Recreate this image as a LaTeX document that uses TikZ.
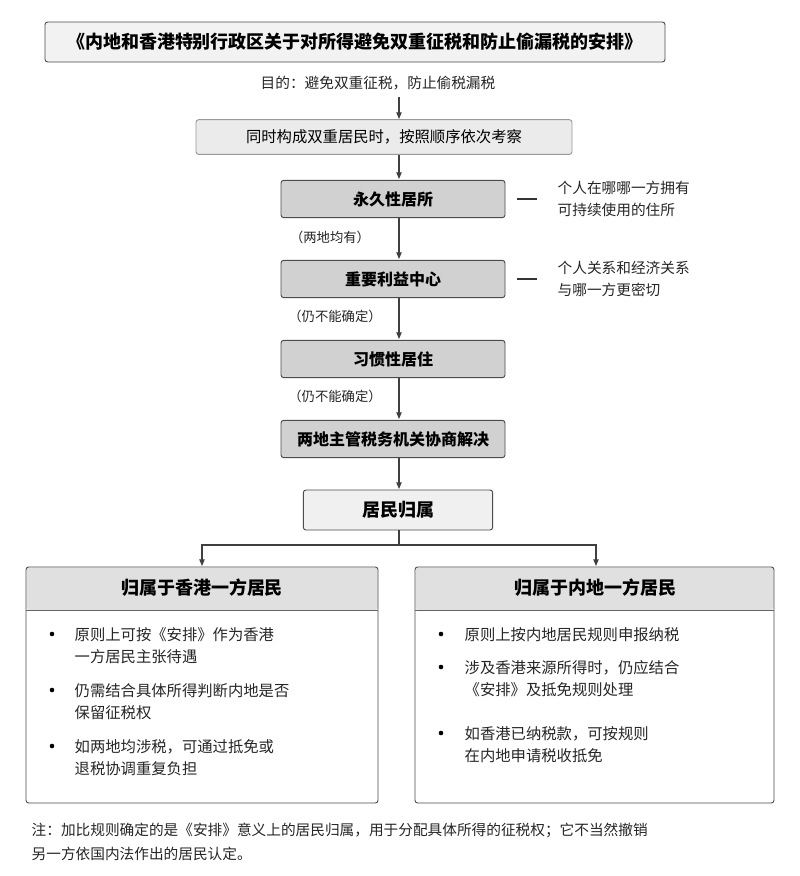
\documentclass[tikz,border=0pt]{standalone}
\usepackage{fontspec}
\setmainfont{Noto Sans CJK SC}
\usetikzlibrary{arrows.meta}
\begin{document}
\begin{tikzpicture}[x=0.75pt,y=-0.75pt,
  arr/.style={-{Triangle[length=5pt,width=4pt]},draw=black!75,line width=0.8pt},
  box/.style={draw=black!70,rounded corners=2pt,line width=0.7pt},
  stepbox/.style={box,fill=black!18,minimum width=168pt,minimum height=28pt,font=\fontsize{12}{14}\selectfont\bfseries},
  txt/.style={font=\fontsize{11}{13}\selectfont,text=black!85},
  side/.style={txt,align=left,anchor=west,font=\fontsize{11}{16}\selectfont},
  bl/.style={txt,align=left,anchor=north west,text width=235pt,font=\fontsize{11.5}{16.5}\selectfont}]
\useasboundingbox (0,0) rectangle (800,876);
\fill[white] (0,0) rectangle (800,876);
\node[box,fill=black!5,minimum width=465pt,minimum height=30pt,font=\fontsize{13.5}{16}\selectfont\bfseries] (title) at (355,42) {《内地和香港特别行政区关于对所得避免双重征税和防止偷漏税的安排》};
\node[txt] (aim) at (378,83) {目的：避免双重征税，防止偷税漏税};
\node[box,fill=black!8,draw=black!40,minimum width=282pt,minimum height=26pt,font=\fontsize{11.5}{13}\selectfont] (seq) at (384,137) {同时构成双重居民时，按照顺序依次考察};
\node[stepbox] (s1) at (393,199) {永久性居所};
\node[stepbox] (s2) at (393,279) {重要利益中心};
\node[stepbox] (s3) at (393,359) {习惯性居住};
\node[stepbox] (s4) at (393,439) {两地主管税务机关协商解决};
\node[box,fill=black!6,minimum width=142pt,minimum height=30pt,font=\fontsize{13.5}{15}\selectfont\bfseries] (res) at (398,510) {居民归属};
\draw[arr] (399,97) -- (399,119);
\draw[arr] (399,155) -- (399,179);
\draw[arr] (399,218) -- (399,259);
\draw[arr] (399,298) -- (399,339);
\draw[arr] (399,378) -- (399,419);
\draw[arr] (399,458) -- (399,489);
\node[txt,font=\fontsize{10}{11}\selectfont] (l1) at (330,237) {（两地均有）};
\node[txt,font=\fontsize{10}{11}\selectfont] (l2) at (335,316) {（仍不能确定）};
\node[txt,font=\fontsize{10}{11}\selectfont] (l3) at (335,396) {（仍不能确定）};
\draw[black!80,line width=0.8pt] (517,199) -- (537,199);
\draw[black!80,line width=0.8pt] (517,279) -- (537,279);
\node[side] (d1) at (553,199) {个人在哪哪一方拥有\\可持续使用的住所};
\node[side] (d2) at (553,279) {个人关系和经济关系\\与哪一方更密切};
\coordinate (sp) at (399,545);
\draw[black!75,line width=0.8pt] (399,530) -- (sp);
\draw[arr] (sp) -| (202,566);
\draw[arr] (sp) -| (596,566);
\fill[black!12,rounded corners=2pt] (26.5,567.5) rectangle (377.5,610);
\draw[box] (26,567) rectangle (378,803);
\draw[black!60,line width=0.7pt] (26,610) -- (378,610);
\node[font=\fontsize{13.5}{15}\selectfont\bfseries] (lt) at (202,588) {归属于香港一方居民};
\fill[black!12,rounded corners=2pt] (415.5,567.5) rectangle (773.5,610);
\draw[box] (415,567) rectangle (774,803);
\draw[black!60,line width=0.7pt] (415,610) -- (774,610);
\node[font=\fontsize{13.5}{15}\selectfont\bfseries] (rt) at (595,588) {归属于内地一方居民};
\foreach \y/\t [count=\i] in {623/{原则上可按《安排》作为香港\\一方居民主张待遇},679/{仍需结合具体所得判断内地是否\\保留征税权},735/{如两地均涉税，可通过抵免或\\退税协调重复负担}}{
  \fill (52,\y+11) circle (2.3);
  \node[bl] (lb\i) at (70,\y) {\t};}
\foreach \y/\t [count=\i] in {623/{原则上按内地居民规则申报纳税},656/{涉及香港来源所得时，仍应结合\\《安排》及抵免规则处理},722/{如香港已纳税款，可按规则\\在内地申请税收抵免}}{
  \fill (441,\y+11) circle (2.3);
  \node[bl] (rb\i) at (460,\y) {\t};}
\node[txt,anchor=north west,align=left,font=\fontsize{11}{18}\selectfont] (note) at (27,818) {注：加比规则确定的是《安排》意义上的居民归属，用于分配具体所得的征税权；它不当然撤销\\另一方依国内法作出的居民认定。};
\end{tikzpicture}
\end{document}
